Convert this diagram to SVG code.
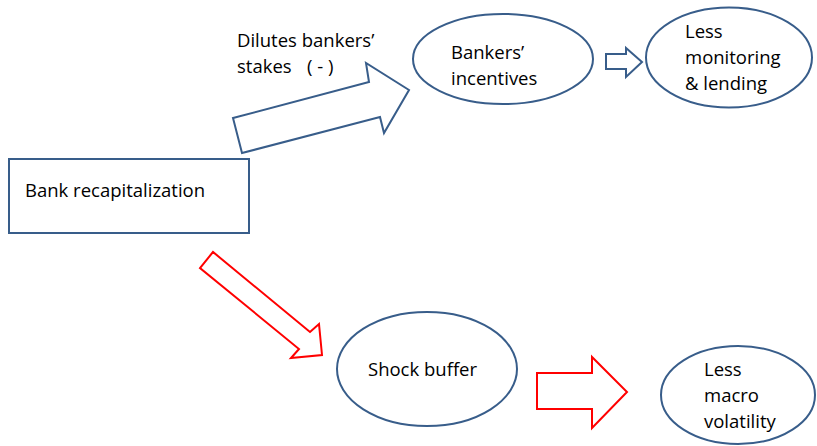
<svg xmlns="http://www.w3.org/2000/svg" width="817" height="446" viewBox="0 0 817 446">
<style>
.blue{fill:#fff;stroke:#385D8A;stroke-width:2}
.red{fill:#fff;stroke:#FF0000;stroke-width:2}
text{font-family:"Open Sans","Liberation Sans",sans-serif;font-size:18.5px;fill:#000}
</style>
<rect width="817" height="446" fill="#fff"/>
<g id="connectors">
<polygon class="blue" points="242,153 233,118 369,82 366,63 409,90 384,133 380,117"/>
<polygon class="blue" points="606,54 626,54 626,48 642,62 626,77 626,69 606,69"/>
<polygon class="red" points="213,252 200,268 299,349 291,358 322,355 319,324 310,332"/>
<polygon class="red" points="537,373 592,373 592,357 627,392 592,428 592,409 537,409"/>
<text x="237" y="47">Dilutes bankers’</text>
<text x="237" y="73">stakes<tspan x="307">( - )</tspan></text>
</g>
<g id="node-recap">
<rect class="blue" x="9" y="159" width="240" height="74"/>
<text x="25" y="197">Bank recapitalization</text>
</g>
<g id="node-incentives">
<ellipse class="blue" cx="503" cy="59" rx="90" ry="45"/>
<text x="451" y="59">Bankers’</text>
<text x="451" y="85">incentives</text>
</g>
<g id="node-lending">
<ellipse class="blue" cx="729" cy="57.5" rx="83" ry="50"/>
<text x="685" y="38">Less</text>
<text x="685" y="64">monitoring</text>
<text x="685" y="90">&amp; lending</text>
</g>
<g id="node-shock">
<ellipse class="blue" cx="427" cy="369" rx="90" ry="57"/>
<text x="368" y="376">Shock buffer</text>
</g>
<g id="node-volatility">
<ellipse class="blue" cx="738" cy="395" rx="77" ry="49"/>
<text x="704" y="376">Less</text>
<text x="704" y="402">macro</text>
<text x="704" y="428">volatility</text>
</g>
</svg>
